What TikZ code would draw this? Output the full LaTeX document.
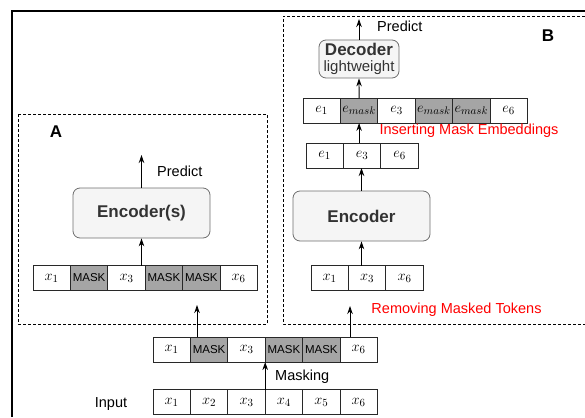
\documentclass[tikz,border=0pt]{standalone}
\usepackage{fontspec}
\setmainfont{Liberation Sans}
\usetikzlibrary{arrows.meta}
\definecolor{maskgray}{RGB}{165,165,165}
\definecolor{cellline}{RGB}{40,40,40}
\definecolor{encfill}{RGB}{245,245,245}
\definecolor{encline}{RGB}{110,110,110}
\definecolor{enctext}{RGB}{51,51,51}
\tikzset{
  cell/.style={draw=cellline, line width=0.8pt, minimum width=37.4pt, minimum height=25pt,
    inner sep=0pt, outer sep=0pt, fill=white, font=\fontsize{15.5}{15.5}\selectfont},
  maskcell/.style={cell, fill=maskgray},
  masktext/.style={font=\fontsize{11.5}{12}\selectfont},
  nextcell/.style={anchor=west},
  encbox/.style={draw=encline, fill=encfill, line width=0.8pt, rounded corners=7pt,
    inner sep=0pt, text=enctext},
  arr/.style={-{Stealth[length=8pt,width=5.5pt]}, line width=0.9pt},
  lbl/.style={font=\fontsize{14.5}{16}\selectfont, inner sep=0pt},
  redlbl/.style={lbl, text=red},
  dbox/.style={dash pattern=on 3pt off 2pt, line width=0.8pt},
  letter/.style={font=\fontsize{17}{17}\selectfont\bfseries, inner sep=0pt}
}
\begin{document}
\begin{tikzpicture}[x=1pt,y=-1pt]
\useasboundingbox (0,0) rectangle (585,417);
% outer frame
\draw[line width=1.1pt] (12,417) -- (12,11) -- (585,11);
% dashed boxes
\draw[dbox] (18,114) rectangle (267,324);
\draw[dbox] (585,16) -- (283,16) -- (283,324) -- (585,324);
\node[letter] (la) at (56,132) {A};
\node[letter] (lb) at (548,36) {B};

% input row
\node[cell] (i1) at (171.7,402) {$x_1$};
\node[cell,nextcell] (i2) at (i1.east) {$x_2$};
\node[cell,nextcell] (i3) at (i2.east) {$x_3$};
\node[cell,nextcell] (i4) at (i3.east) {$x_4$};
\node[cell,nextcell] (i5) at (i4.east) {$x_5$};
\node[cell,nextcell] (i6) at (i5.east) {$x_6$};
\node[lbl] (inp) at (111,404) {Input};

% masked row
\node[cell] (m1) at (171.7,349.5) {$x_1$};
\node[maskcell,masktext,nextcell] (m2) at (m1.east) {MASK};
\node[cell,nextcell] (m3) at (m2.east) {$x_3$};
\node[maskcell,masktext,nextcell] (m4) at (m3.east) {MASK};
\node[maskcell,masktext,nextcell] (m5) at (m4.east) {MASK};
\node[cell,nextcell] (m6) at (m5.east) {$x_6$};
\draw[arr] (i3.north east) -- (m3.south east);
\node[lbl,anchor=west] (mk) at (275,377) {Masking};

% arrows into boxes
\coordinate (tipA) at (197,305);
\coordinate (tipB) at (350,306);
\draw[arr] (m2.north -| tipA) -- (tipA);
\draw[arr] (m6.north -| tipB) -- (tipB);

% ---- Box A ----
\node[cell] (a1) at (51.7,278) {$x_1$};
\node[maskcell,masktext,nextcell] (a2) at (a1.east) {MASK};
\node[cell,nextcell] (a3) at (a2.east) {$x_3$};
\node[maskcell,masktext,nextcell] (a4) at (a3.east) {MASK};
\node[maskcell,masktext,nextcell] (a5) at (a4.east) {MASK};
\node[cell,nextcell] (a6) at (a5.east) {$x_6$};
\node[encbox, minimum width=137pt, minimum height=50pt,
  font=\fontsize{17}{17}\selectfont\bfseries] (encs) at (141.5,213) {Encoder(s)};
\draw[arr] (a3.north -| encs.south) -- (encs.south);
\coordinate (predA) at (141.5,155);
\draw[arr] (encs.north) -- (predA);
\node[lbl,anchor=west] (pa) at (157,171) {Predict};

% ---- Box B ----
\node[cell] (b1) at (329.7,278) {$x_1$};
\node[cell,nextcell] (b2) at (b1.east) {$x_3$};
\node[cell,nextcell] (b3) at (b2.east) {$x_6$};
\node[encbox, minimum width=137pt, minimum height=50pt,
  font=\fontsize{17}{17}\selectfont\bfseries] (enc) at (361.5,216) {Encoder};
\draw[arr] (b2.north -| enc.south) -- (enc.south);
\node[cell] (e1) at (324.7,155.5) {$e_1$};
\node[cell,nextcell] (e2) at (e1.east) {$e_3$};
\node[cell,nextcell] (e3) at (e2.east) {$e_6$};
\draw[arr] (enc.north) -- (enc.north |- e2.south);
\node[cell] (l1) at (321.7,110.5) {$e_1$};
\node[maskcell,nextcell] (l2) at (l1.east) {$e_{mask}$};
\node[cell,nextcell] (l3) at (l2.east) {$e_3$};
\node[maskcell,nextcell] (l4) at (l3.east) {$e_{mask}$};
\node[maskcell,nextcell] (l5) at (l4.east) {$e_{mask}$};
\node[cell,nextcell] (l6) at (l5.east) {$e_6$};
\draw[arr] (e2.north -| l2.south) -- (l2.south);
\node[redlbl] (ins) at (469,131) {Inserting Mask Embeddings};
\node[encbox, minimum width=80pt, minimum height=38pt, align=center,
  font=\fontsize{15}{16}\selectfont] (dec) at (359,59)
  {{\fontsize{17}{17}\selectfont\bfseries Decoder}\\lightweight};
\draw[arr] (l2.north) -- (dec.south);
\coordinate (predB) at (359,19);
\draw[arr] (dec.north) -- (predB);
\node[lbl,anchor=west] (pb) at (377,26) {Predict};
\node[redlbl] (rem) at (456.5,310) {Removing Masked Tokens};
\end{tikzpicture}
\end{document}
